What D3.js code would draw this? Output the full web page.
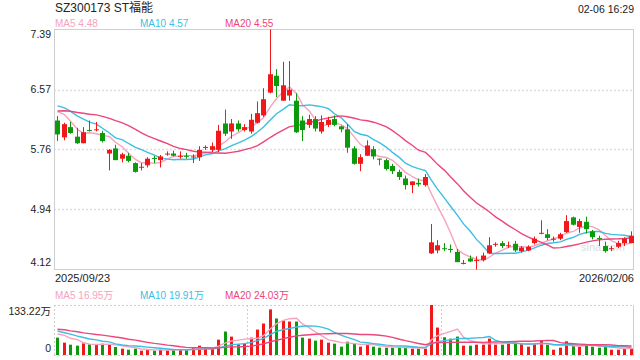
<!DOCTYPE html>
<html>
<head>
<meta charset="utf-8">
<script src="https://cdn.jsdelivr.net/npm/d3@7"></script>
<style>
  html, body { margin: 0; padding: 0; background: #fff; }
  svg { display: block; font-family: "Liberation Sans", Arial, "Noto Sans CJK SC", sans-serif; }
</style>
</head>
<body>
<svg id="chart" width="640" height="360"></svg>
<script>
var title = 'SZ300173 ST福能';
var stamp = '02-06 16:29';
var dateLabels = ['2025/09/23', '2026/02/06'];
var priceTicks = [7.39, 6.57, 5.76, 4.94, 4.12];

var opens = [6.15, 5.92, 6.06, 5.93, 5.84, 6.02, 6.02, 5.98, 5.70, 5.77,
  5.63, 5.67, 5.57, 5.51, 5.54, 5.64, 5.61, 5.69, 5.70, 5.66,
  5.67, 5.65, 5.65, 5.78, 5.75, 5.75, 6.11, 6.00, 6.11, 6.02,
  6.00, 6.12, 6.22, 6.53, 6.76, 6.42, 6.49, 6.42, 6.15, 6.09,
  6.17, 6.00, 6.09, 6.17, 6.07, 6.03, 5.77, 5.56, 5.67, 5.76,
  5.63, 5.61, 5.53, 5.45, 5.36, 5.27, 5.30, 5.27, 4.34, 4.38,
  4.41, 4.40, 4.36, 4.20, 4.27, 4.24, 4.25, 4.34, 4.46, 4.48,
  4.44, 4.47, 4.37, 4.38, 4.48, 4.61, 4.60, 4.53, 4.54, 4.63,
  4.83, 4.70, 4.77, 4.64, 4.55, 4.44, 4.40, 4.43, 4.48, 4.48];
var highs = [6.21, 6.12, 6.13, 6.05, 6.06, 6.15, 6.13, 6.01, 5.76, 5.82,
  5.71, 5.71, 5.58, 5.57, 5.65, 5.67, 5.68, 5.73, 5.74, 5.73,
  5.71, 5.69, 5.80, 5.81, 5.85, 6.09, 6.30, 6.17, 6.15, 6.10,
  6.24, 6.41, 6.59, 7.39, 6.85, 6.95, 6.96, 6.52, 6.21, 6.23,
  6.21, 6.22, 6.20, 6.22, 6.08, 6.10, 5.80, 5.69, 5.88, 5.80,
  5.63, 5.63, 5.56, 5.48, 5.40, 5.32, 5.36, 5.42, 4.74, 4.52,
  4.48, 4.46, 4.40, 4.25, 4.31, 4.30, 4.35, 4.56, 4.49, 4.51,
  4.50, 4.51, 4.44, 4.45, 4.57, 4.79, 4.67, 4.57, 4.62, 4.86,
  4.84, 4.81, 4.84, 4.66, 4.58, 4.50, 4.44, 4.51, 4.56, 4.64];
var lows = [5.87, 5.88, 5.97, 5.83, 5.84, 6.00, 6.00, 5.85, 5.47, 5.61,
  5.58, 5.58, 5.44, 5.47, 5.51, 5.57, 5.51, 5.67, 5.66, 5.63,
  5.63, 5.57, 5.60, 5.75, 5.72, 5.72, 5.94, 5.90, 6.00, 6.00,
  5.97, 6.11, 6.20, 6.52, 6.47, 6.42, 6.42, 5.98, 5.87, 6.05,
  6.00, 5.97, 6.06, 6.07, 5.99, 5.71, 5.55, 5.46, 5.67, 5.62,
  5.54, 5.47, 5.42, 5.34, 5.21, 5.16, 5.25, 5.25, 4.33, 4.34,
  4.37, 4.35, 4.22, 4.19, 4.22, 4.12, 4.23, 4.33, 4.43, 4.41,
  4.41, 4.36, 4.35, 4.37, 4.46, 4.60, 4.52, 4.50, 4.52, 4.62,
  4.72, 4.62, 4.61, 4.53, 4.44, 4.35, 4.37, 4.41, 4.44, 4.48];
var closes = [5.96, 6.10, 5.98, 5.84, 5.99, 6.01, 6.03, 5.87, 5.75, 5.61,
  5.69, 5.60, 5.45, 5.52, 5.63, 5.63, 5.66, 5.70, 5.67, 5.67,
  5.66, 5.66, 5.75, 5.79, 5.80, 6.01, 5.97, 6.11, 6.03, 6.06,
  6.16, 6.25, 6.44, 6.78, 6.62, 6.63, 6.57, 5.99, 6.02, 6.17,
  6.04, 6.13, 6.16, 6.09, 6.03, 5.78, 5.56, 5.65, 5.81, 5.66,
  5.62, 5.49, 5.46, 5.38, 5.27, 5.32, 5.28, 5.38, 4.49, 4.45,
  4.40, 4.39, 4.22, 4.21, 4.23, 4.25, 4.31, 4.45, 4.47, 4.44,
  4.45, 4.38, 4.42, 4.43, 4.54, 4.62, 4.55, 4.54, 4.60, 4.78,
  4.73, 4.78, 4.67, 4.56, 4.54, 4.37, 4.41, 4.48, 4.54, 4.58];
// 成交量, 万
var volumes = [46.3, 32.9, 27.5, 24.9, 31.1, 28.5, 27.5, 30.2, 27.5, 21.3,
  16.8, 14.1, 16.8, 11.5, 15.0, 11.5, 14.1, 12.3, 14.1, 15.9,
  14.1, 19.5, 24.9, 16.8, 16.8, 40.9, 62.5, 49.0, 28.5, 31.1,
  46.3, 67.8, 83.9, 121.5, 97.3, 91.9, 89.2, 89.2, 46.3, 43.6,
  38.3, 40.9, 32.9, 30.2, 22.2, 35.5, 31.1, 22.2, 28.5, 22.2,
  19.5, 19.5, 19.5, 21.3, 19.5, 16.8, 16.8, 16.8, 133.22, 73.1,
  47.2, 43.6, 49.0, 24.9, 24.9, 27.5, 27.5, 43.6, 27.5, 27.5,
  31.1, 31.1, 31.1, 22.2, 30.2, 38.2, 27.5, 14.1, 19.5, 36.5,
  24.0, 22.2, 26.45, 22.2, 19.5, 22.2, 14.1, 14.1, 17.2, 17.15];

// the 19 sessions before the window, only used to start the averages
var prevCloses = [6.05, 6.10, 6.18, 6.22, 6.25, 6.20, 6.28, 6.30, 6.25, 6.27,
  6.38, 6.45, 6.48, 6.42, 6.42, 6.30, 6.43, 6.39, 6.27];
var prevVolumes = [60, 85, 70, 95, 65, 78, 62, 80, 70, 65,
  80, 66, 75, 70, 69, 51, 67, 43.5, 72.5];

var maPeriods = [5, 10, 20];
var volSeparators = [30, 60];

(function() {
  var RED = '#f01818', GREEN = '#0c9a0c', GRID = '#dedede', BORDER = '#cfcfcf', TXT = '#222';
  var maColors = ['#f7a2be', '#3cbfe2', '#ec467a'];
  var left = 54, right = 634, top = 29.5, bottom = 269.5, vTop = 305, vBottom = 355;
  var svg, n, x, y, yv, cx, idx, up, movingAvg, priceMA, volMA, line, g;

  n = closes.length;
  idx = d3.range(n);
  svg = d3.select('#chart');

  x = d3.scaleBand().domain(idx).range([left, right]);
  cx = function(i) { return Math.round(x(i) + x.step() / 2) + 0.5; };
  y = d3.scaleLinear().domain([d3.min(lows), d3.max(highs)]).range([bottom, top]);
  yv = d3.scaleLinear().domain([0, d3.max(volumes)]).range([vBottom, vTop]);
  up = function(i) { return closes[i] >= opens[i]; };

  movingAvg = function(prev, vals, p) {
    var all = prev.concat(vals), off = prev.length;
    return vals.map(function(_, i) {
      return d3.mean(all.slice(Math.max(0, off + i - p + 1), off + i + 1));
    });
  };
  priceMA = maPeriods.map(function(p) { return movingAvg(prevCloses, closes, p); });
  volMA = maPeriods.map(function(p) { return movingAvg(prevVolumes, volumes, p); });

  // header
  svg.append('text').attr('x', 55).attr('y', 12).attr('font-size', 12).attr('fill', TXT).text(title);
  svg.append('text').attr('x', right).attr('y', 13).attr('font-size', 10.5).attr('text-anchor', 'end')
    .attr('fill', TXT).text(stamp);

  var legend = function(yPos, series, fmt) {
    var xs = [55, 140, 225];
    maPeriods.forEach(function(p, k) {
      svg.append('text').attr('x', xs[k]).attr('y', yPos).attr('font-size', 10)
        .attr('fill', maColors[k]).text('MA' + p + ' ' + fmt(series[k][n - 1]));
    });
  };
  legend(27, priceMA, function(v) { return v.toFixed(2); });
  legend(298.5, volMA, function(v) { return v.toFixed(2) + '万'; });

  // price panel frame + grid
  g = svg.append('g');
  g.selectAll('line.grid').data(priceTicks.slice(1, -1)).join('line')
    .attr('x1', left).attr('x2', right)
    .attr('y1', function(d) { return Math.round(y(d)) + 0.5; })
    .attr('y2', function(d) { return Math.round(y(d)) + 0.5; })
    .attr('stroke', GRID).attr('stroke-width', 1.5).attr('stroke-dasharray', '2,2');
  g.append('rect').attr('x', left + 0.5).attr('y', top).attr('width', right - left - 1)
    .attr('height', bottom - top).attr('fill', 'none').attr('stroke', BORDER);

  svg.append('g').selectAll('text').data(priceTicks).join('text')
    .attr('x', 51).attr('text-anchor', 'end').attr('font-size', 10.5).attr('fill', TXT)
    .attr('y', function(d, k) {
      var c = y(d);
      if (k === 0) c += 5;
      if (k === priceTicks.length - 1) c -= 7;
      return c + 3.8;
    })
    .text(function(d) { return d.toFixed(2); });

  svg.append('text').attr('x', 603).attr('y', 251).attr('font-size', 11).attr('text-anchor', 'middle')
    .attr('fill', '#dcdcdc').text('sina.com');

  // moving averages under the candles
  maPeriods.forEach(function(p, k) {
    line = d3.line().x(cx).y(function(i) { return y(priceMA[k][i]); });
    svg.append('path').datum(idx).attr('d', line).attr('fill', 'none')
      .attr('stroke', maColors[k]).attr('stroke-width', 1.4);
  });

  g = svg.append('g');
  g.selectAll('line').data(idx).join('line')
    .attr('x1', cx).attr('x2', cx)
    .attr('y1', function(i) { return y(highs[i]); })
    .attr('y2', function(i) { return y(lows[i]); })
    .attr('stroke', function(i) { return up(i) ? RED : GREEN; });
  g.selectAll('rect').data(idx).join('rect')
    .attr('x', function(i) { return cx(i) - 2.5; })
    .attr('width', 5)
    .attr('y', function(i) { return y(Math.max(opens[i], closes[i])); })
    .attr('height', function(i) { return Math.max(1, Math.abs(y(opens[i]) - y(closes[i]))); })
    .attr('fill', function(i) { return up(i) ? RED : GREEN; });

  // dates
  svg.append('text').attr('x', 55).attr('y', 282).attr('font-size', 11).attr('fill', TXT).text(dateLabels[0]);
  svg.append('text').attr('x', right).attr('y', 282).attr('font-size', 11).attr('text-anchor', 'end')
    .attr('fill', TXT).text(dateLabels[1]);

  // volume panel
  g = svg.append('g').attr('stroke', BORDER).attr('stroke-dasharray', '2,2').attr('stroke-width', 1);
  g.append('line').attr('x1', left).attr('x2', right).attr('y1', vTop + 0.5).attr('y2', vTop + 0.5);
  g.append('line').attr('x1', left).attr('x2', right).attr('y1', vBottom + 0.5).attr('y2', vBottom + 0.5);
  g.append('line').attr('x1', left + 0.5).attr('x2', left + 0.5).attr('y1', vTop).attr('y2', vBottom);
  g.selectAll('line.sep').data(volSeparators).join('line')
    .attr('x1', function(i) { return Math.round(x(i)) + 0.5; })
    .attr('x2', function(i) { return Math.round(x(i)) + 0.5; })
    .attr('y1', vTop).attr('y2', vBottom);
  svg.append('line').attr('x1', right - 0.5).attr('x2', right - 0.5).attr('y1', vTop).attr('y2', vBottom + 1)
    .attr('stroke', BORDER);

  svg.append('g').selectAll('rect').data(idx).join('rect')
    .attr('x', function(i) { return cx(i) - 1.5; })
    .attr('width', 3)
    .attr('y', function(i) { return yv(volumes[i]); })
    .attr('height', function(i) { return vBottom - yv(volumes[i]); })
    .attr('fill', function(i) { return up(i) ? RED : GREEN; });

  maPeriods.forEach(function(p, k) {
    line = d3.line().x(cx).y(function(i) { return yv(volMA[k][i]); });
    svg.append('path').datum(idx).attr('d', line).attr('fill', 'none')
      .attr('stroke', maColors[k]).attr('stroke-width', 1.4);
  });

  svg.append('text').attr('x', 51).attr('y', 315).attr('font-size', 10.5).attr('text-anchor', 'end')
    .attr('fill', TXT).text(d3.max(volumes).toFixed(2) + '万');
  svg.append('text').attr('x', 51).attr('y', 351.5).attr('font-size', 10.5).attr('text-anchor', 'end')
    .attr('fill', TXT).text('0');
})();
</script>
</body>
</html>
